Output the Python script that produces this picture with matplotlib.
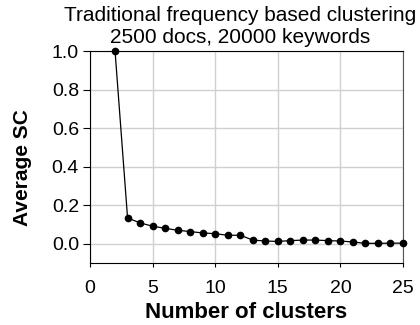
import matplotlib
matplotlib.use("Agg")
import matplotlib.pyplot as plt

plt.rcParams["font.family"] = ["Liberation Sans", "DejaVu Sans"]

clusters = list(range(2, 26))
avg_sc = [1.0, 0.134, 0.108, 0.091, 0.080, 0.070, 0.063, 0.056, 0.052, 0.044,
          0.044, 0.019, 0.014, 0.012, 0.016, 0.019, 0.019, 0.016, 0.014, 0.009,
          0.002, 0.002, 0.003, 0.003]

fig = plt.figure(figsize=(4.2, 3.25), dpi=100)
ax = fig.add_axes([90 / 420, 1 - 263 / 325, 313 / 420, 212 / 325])

ax.plot(clusters, avg_sc, color="black", linewidth=0.9, marker="o",
        markersize=4.5, clip_on=False, zorder=3)

ax.set_xlim(0, 25)
ax.set_ylim(-0.1, 1.0)
ax.set_xticks([0, 5, 10, 15, 20, 25])
ax.set_yticks([0.0, 0.2, 0.4, 0.6, 0.8, 1.0])
ax.set_yticklabels(["0.0", "0.2", "0.4", "0.6", "0.8", "1.0"])
ax.grid(True, color="#d0d0d0", linewidth=1.0)
ax.set_axisbelow(True)

ax.tick_params(axis="both", labelsize=14, direction="out")
ax.tick_params(axis="x", length=3, pad=9)
ax.tick_params(axis="y", length=5, pad=3)
ax.spines["right"].set_color("#555555")

ax.set_xlabel("Number of clusters", fontsize=16, fontweight="bold", labelpad=4)
ax.set_ylabel("Average SC", fontsize=15, fontweight="bold")
ax.yaxis.set_label_coords(-0.185, 0.45)
ax.set_title("Traditional frequency based clustering\n2500 docs, 20000 keywords",
             fontsize=15, pad=6, linespacing=1.15, x=0.48)

plt.savefig("out.png")
